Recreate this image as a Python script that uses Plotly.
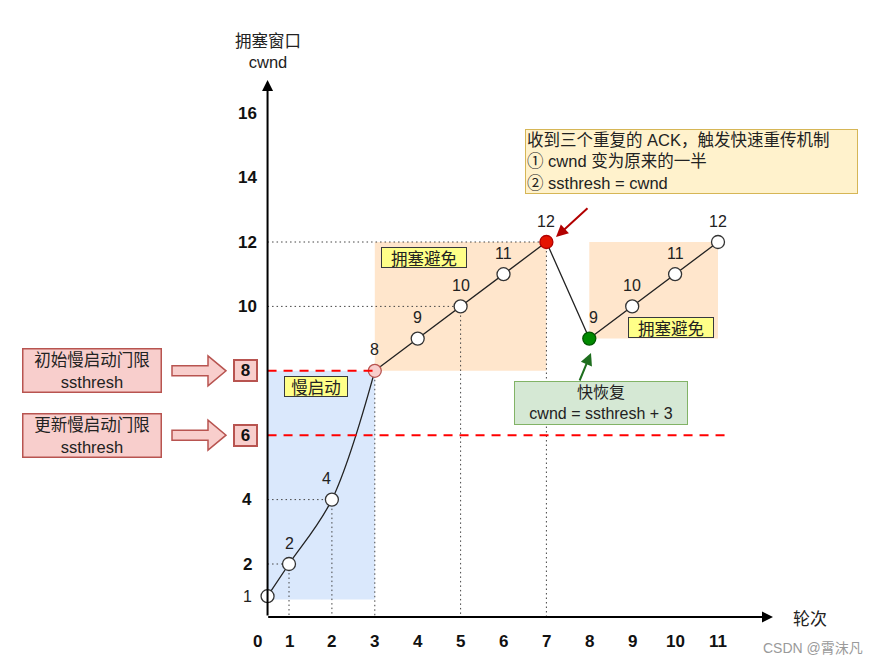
import plotly.graph_objects as go

# ---------------- data ----------------
rounds = [0, 1, 2, 3, 4, 5, 6, 7, 8, 9, 10, 11]
cwnd = [1, 2, 4, 8, 9, 10, 11, 12, 9, 10, 11, 12]
x_ticks = [0, 1, 2, 3, 4, 5, 6, 7, 8, 9, 10, 11]
y_ticks_bold = [2, 4, 10, 12, 14, 16]
y_tick_plain = 1
thresholds = [8, 6]           # initial ssthresh, updated ssthresh
threshold_labels = ["初始慢启动门限<br>ssthresh", "更新慢启动门限<br>ssthresh"]
slow_start_end = 3            # index where slow start ends
loss_idx = 7                  # triple duplicate ACK
recover_idx = 8               # fast recovery
v_guides = [1, 2, 3, 5, 7]    # rounds with vertical dotted guide
h_guides = [1, 2, 5, 7]       # rounds with horizontal dotted guide

# --------------- pixel <-> data helpers (layout only) ---------------
W, H = 892, 663
def X(px):
    return 1 + (px - 289) / 42.9
def Y(py):
    return 2 + (564 - py) / 32.2

AX_X = 0.5      # vertical axis position
AX_Y = Y(617)   # horizontal axis position

MIX = "Liberation Sans, Noto Sans CJK SC"

draw_x = [max(r, AX_X) for r in rounds]

fig = go.Figure()

shapes = []
# shaded regions
shapes.append(dict(type="rect", x0=AX_X, x1=rounds[slow_start_end], y0=0.9, y1=cwnd[slow_start_end],
                   fillcolor="#dae8fc", line=dict(width=0), layer="below"))
shapes.append(dict(type="rect", x0=rounds[slow_start_end], x1=rounds[loss_idx], y0=cwnd[slow_start_end],
                   y1=cwnd[loss_idx], fillcolor="#ffe6cc", line=dict(width=0), layer="below"))
shapes.append(dict(type="rect", x0=rounds[recover_idx], x1=rounds[-1], y0=cwnd[recover_idx],
                   y1=cwnd[-1], fillcolor="#ffe6cc", line=dict(width=0), layer="below"))

# dotted guides
guide_line = dict(color="#444", width=1, dash="1.5px,3px")
for r in v_guides:
    shapes.append(dict(type="line", x0=r, x1=r, y0=cwnd[r], y1=AX_Y, line=guide_line, layer="below"))
for r in h_guides:
    shapes.append(dict(type="line", x0=AX_X, x1=r, y0=cwnd[r], y1=cwnd[r], line=guide_line, layer="below"))

# ssthresh dashed lines
shapes.append(dict(type="line", x0=AX_X, x1=rounds[slow_start_end], y0=thresholds[0], y1=thresholds[0],
                   line=dict(color="#ff0000", width=2, dash="9px,7px")))
shapes.append(dict(type="line", x0=AX_X, x1=X(730), y0=thresholds[1], y1=thresholds[1],
                   line=dict(color="#ff0000", width=2, dash="9px,7px")))

# block arrows on the left
for t in thresholds:
    cy = 564 - (t - 2) * 32.2
    pts = [(172, cy - 5), (208, cy - 5), (208, cy - 15), (226, cy), (208, cy + 15), (208, cy + 5), (172, cy + 5)]
    path = "M " + " L ".join(f"{X(px):.4f},{Y(py):.4f}" for px, py in pts) + " Z"
    shapes.append(dict(type="path", path=path, fillcolor="#f8cecc", line=dict(color="#b85450", width=1.5)))

# slow start curve
fig.add_trace(go.Scatter(x=draw_x[:slow_start_end + 1], y=cwnd[:slow_start_end + 1], mode="lines",
                         line=dict(color="#222", width=1.3, shape="spline", smoothing=1),
                         hoverinfo="skip", showlegend=False))
# linear parts
fig.add_trace(go.Scatter(x=draw_x[slow_start_end:], y=cwnd[slow_start_end:], mode="lines",
                         line=dict(color="#222", width=1.3), hoverinfo="skip", showlegend=False))

fills, lines = [], []
for i in range(len(rounds)):
    if i == slow_start_end:
        fills.append("#f8cecc"); lines.append("#b85450")
    elif i == loss_idx:
        fills.append("#e51400"); lines.append("#b20000")
    elif i == recover_idx:
        fills.append("#008a00"); lines.append("#005700")
    else:
        fills.append("#ffffff"); lines.append("#333333")
fig.add_trace(go.Scatter(x=draw_x, y=cwnd, mode="markers",
                         marker=dict(size=13, color=fills, line=dict(color=lines, width=1.3)),
                         showlegend=False, hoverinfo="x+y"))

ann = []
# point labels
for i, (xx, v) in enumerate(zip(draw_x, cwnd)):
    if i == 0:
        continue
    dx = -5 if i == 2 else (4 if i == recover_idx else 0)
    ann.append(dict(x=xx, y=v, text=str(v), showarrow=False, yshift=21, xshift=dx,
                    font=dict(family="Liberation Sans", size=16, color="#222")))

# axes arrows
ann.append(dict(x=AX_X, y=Y(80), ax=AX_X, ay=AX_Y, xref="x", yref="y", axref="x", ayref="y",
                showarrow=True, arrowhead=2, arrowsize=1.1, arrowwidth=2, arrowcolor="#000", text=""))
ann.append(dict(x=X(773), y=AX_Y, ax=AX_X - 0.02, ay=AX_Y, xref="x", yref="y", axref="x", ayref="y",
                showarrow=True, arrowhead=2, arrowsize=1.1, arrowwidth=2, arrowcolor="#000", text=""))

tick_font = dict(family="Liberation Sans", size=17, color="#111")
# x tick labels
for r in x_ticks:
    xx = X(257) if r == 0 else r
    ann.append(dict(x=xx, y=Y(641), text=f"<b>{r}</b>", showarrow=False, font=tick_font))
# y tick labels
for v in y_ticks_bold:
    ann.append(dict(x=X(247), y=v, text=f"<b>{v}</b>", showarrow=False, font=tick_font))
ann.append(dict(x=X(247), y=y_tick_plain, text=str(y_tick_plain), showarrow=False,
                font=dict(family="Liberation Sans", size=16, color="#222")))
for t in thresholds:
    ann.append(dict(x=X(245.5), y=t, text=f"<b>{t}</b>", showarrow=False, font=tick_font,
                    bgcolor="#f8cecc", bordercolor="#b85450", borderwidth=2, borderpad=1,
                    width=19, height=17))

# left threshold boxes
for t, lab in zip(thresholds, threshold_labels):
    ann.append(dict(x=X(91.5), y=t, text=lab, showarrow=False,
                    font=dict(family=MIX, size=16.5, color="#222"),
                    bgcolor="#f8cecc", bordercolor="#b85450", borderwidth=1.5, borderpad=1,
                    width=135, height=40))

# axis titles
ann.append(dict(x=AX_X, y=Y(51), text="拥塞窗口<br>cwnd", showarrow=False,
                font=dict(family=MIX, size=16.5, color="#222")))
ann.append(dict(x=X(810), y=Y(617), text="轮次", showarrow=False,
                font=dict(family="Noto Sans CJK SC", size=17, color="#222")))

# phase labels
box_font = dict(family="Noto Sans CJK SC", size=16.5, color="#222")
ann.append(dict(x=X(316), y=Y(386), text="慢启动", showarrow=False, font=box_font,
                bgcolor="#ffff88", bordercolor="#36393d", borderwidth=1, borderpad=0, width=62, height=19))
ann.append(dict(x=X(424), y=Y(257.5), text="拥塞避免", showarrow=False, font=box_font,
                bgcolor="#ffff88", bordercolor="#36393d", borderwidth=1, borderpad=0, width=84, height=19))
ann.append(dict(x=X(670.5), y=Y(327.5), text="拥塞避免", showarrow=False, font=box_font,
                bgcolor="#ffff88", bordercolor="#36393d", borderwidth=1, borderpad=0, width=84, height=19))

# triple ACK note
ann.append(dict(x=X(691.5), y=Y(161), text="收到三个重复的 ACK，触发快速重传机制<br>① cwnd 变为原来的一半<br>② ssthresh = cwnd",
                showarrow=False, align="left", font=dict(family=MIX, size=16.5, color="#222"),
                bgcolor="#fff2cc", bordercolor="#d6b656", borderwidth=1, borderpad=1, width=329, height=61))
ann.append(dict(x=X(556), y=Y(237), ax=X(589), ay=Y(207), xref="x", yref="y", axref="x", ayref="y",
                showarrow=True, arrowhead=2, arrowsize=1.2, arrowwidth=2, arrowcolor="#b20000", text=""))

# fast recovery note
ann.append(dict(x=X(600.5), y=Y(402.5), text="快恢复<br>cwnd = ssthresh + 3", showarrow=False,
                font=dict(family=MIX, size=16, color="#222"),
                bgcolor="#d5e8d4", bordercolor="#82b366", borderwidth=1, borderpad=1, width=170, height=40))
ann.append(dict(x=X(591), y=Y(353), ax=X(579), ay=Y(382), xref="x", yref="y", axref="x", ayref="y",
                showarrow=True, arrowhead=2, arrowsize=1.2, arrowwidth=2, arrowcolor="#1e6e1e", text=""))

# watermark
ann.append(dict(x=X(813), y=Y(648), text="CSDN @霄沫凡", showarrow=False,
                font=dict(family=MIX, size=14, color="#9a9a9a")))

fig.update_layout(
    width=W, height=H, autosize=False,
    margin=dict(l=0, r=0, t=0, b=0),
    paper_bgcolor="white", plot_bgcolor="white",
    xaxis=dict(range=[X(0), X(W)], visible=False, fixedrange=True),
    yaxis=dict(range=[Y(H), Y(0)], visible=False, fixedrange=True),
    shapes=shapes, annotations=ann, showlegend=False,
)

fig.write_html("out.html")
